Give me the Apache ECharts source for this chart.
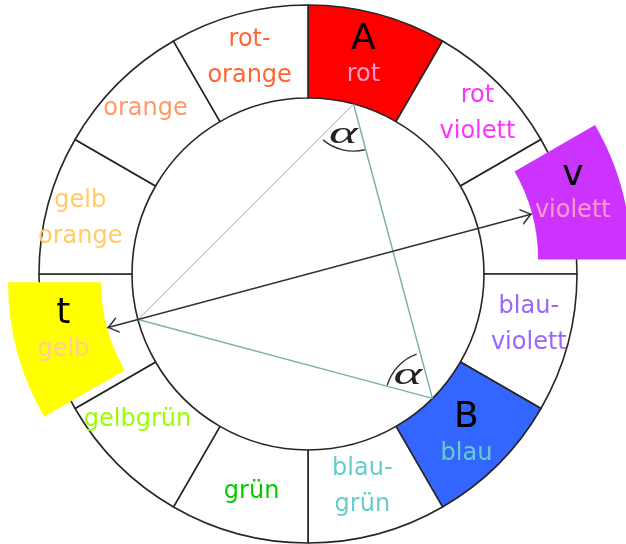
<!DOCTYPE html>
<html><head><meta charset="utf-8">
<script src="https://cdn.jsdelivr.net/npm/echarts@6/dist/echarts.min.js"></script>
<style>html,body{margin:0;padding:0;background:#fff}#c{width:626px;height:544px}</style>
</head><body><div id="c"></div>
<script>
// ---------- data ----------
const segmentNames = ['rot','rot violett','violett','blau-violett','blau','blau-grün','grün','gelbgrün','gelb','gelb orange','orange','rot-orange'];
const segmentLabels = ['rot','rot\nviolett','violett','blau-\nviolett','blau','blau-\ngrün','grün','gelbgrün','gelb','gelb\norange','orange','rot-\norange'];
const segmentValues = [1,1,1,1,1,1,1,1,1,1,1,1];
const markedLetters = {'rot':'A','blau':'B','violett':'v','gelb':'t'};
// polar points: [radius in % of outer ring, angle in degrees]
const trianglePoints = [
  {name:'A', value:[65.4, 75]},
  {name:'B', value:[65.4, 315]},
  {name:'t', value:[65.4, 195]}
];
const arrowPoints = [
  {name:'tEnd', value:[77.3, 195]},
  {name:'vEnd', value:[86.2, 15]}
];
const triangleEdges = [['A','t'],['A','B'],['B','t']];
const arrowEdge = ['tEnd','vEnd'];
const angleMarks = [['A','t','B'],['B','A','t']];
const angleSymbol = 'α';

// ---------- styles ----------
const FONT = 'DejaVu Sans';
const CENTER = [308, 274];
const R_IN = 176, R_OUT = 269;
const labelColors = ['#ff99cc','#ff33ff','#ff99cc','#9966ff','#66cccc','#66cccc','#00cc00','#99ff00','#ffcc99','#ffcc66','#ff9966','#ff6633'];
const fillColors = {'rot':'#ff0000','blau':'#3366ff','violett':'#cc33ff','gelb':'#ffff00'};
const explodeOffsets = {'violett':56,'gelb':32};
const labelOffsets = [[-3,0],[10,-1],[0,0],[3,-8],[-1,1],[-4,-5],[2,0],[-11,-14],[-3,-19],[-10,3],[-3,-6],[0,2]];
const edgeStyles = [
  {color:'#a8a8a8', width:1},
  {color:'#7fb0b0', width:1.5},
  {color:'#7fb0b0', width:1.5}
];
const chevron = 'path://M0 0L10 0L10 0.01Z M5 5L8.8 10L7.95 10L5 6.12L2.05 10L1.2 10Z';

function labelFor(i) {
  const n = segmentNames[i];
  const base = {show:true, position:'inside', offset:labelOffsets[i], fontFamily:FONT};
  if (markedLetters[n]) {
    return Object.assign(base, {
      formatter: '{big|' + markedLetters[n] + '}\n{small|' + segmentLabels[i] + '}',
      rich: {
        big:{fontFamily:FONT, fontSize:36, lineHeight:38, color:'#000'},
        small:{fontFamily:FONT, fontSize:24, lineHeight:34, color:labelColors[i]}
      }
    });
  }
  return Object.assign(base, {formatter: segmentLabels[i], color: labelColors[i], fontSize:24, lineHeight:36});
}

const series = [];
// base ring
series.push({
  type:'pie', center:CENTER, radius:[R_IN, R_OUT], startAngle:90, clockwise:true,
  silent:true, avoidLabelOverlap:false, z:1,
  labelLine:{show:false},
  itemStyle:{borderColor:'#262626', borderWidth:1.6},
  emphasis:{disabled:true},
  data: segmentNames.map((n,i)=>({
    name:n, value:segmentValues[i],
    itemStyle:{color: (fillColors[n] && !explodeOffsets[n]) ? fillColors[n] : '#ffffff'},
    label: explodeOffsets[n] ? {show:false} : labelFor(i)
  }))
});
// exploded highlight segments
Object.keys(explodeOffsets).forEach(key=>{
  series.push({
    type:'pie', center:CENTER, radius:[R_IN, R_OUT], startAngle:90, clockwise:true,
    silent:true, avoidLabelOverlap:false, z:2,
    selectedMode:'single', selectedOffset: explodeOffsets[key],
    labelLine:{show:false},
    itemStyle:{borderWidth:0},
    emphasis:{disabled:true},
    select:{itemStyle:{borderWidth:0}},
    data: segmentNames.map((n,i)=>({
      name:n, value:segmentValues[i], selected: n===key,
      itemStyle:{color: n===key ? fillColors[n] : 'rgba(0,0,0,0)', borderWidth:0},
      label: n===key ? labelFor(i) : {show:false},
      select:{
        itemStyle:{color: n===key ? fillColors[n] : 'rgba(0,0,0,0)', borderWidth:0},
        label: n===key ? labelFor(i) : {show:false}
      }
    }))
  });
});
// triangle and arrow
series.push({
  type:'graph', coordinateSystem:'polar', polarIndex:0, layout:'none', silent:true, z:3,
  symbolSize:0, label:{show:false}, emphasis:{disabled:true},
  data: trianglePoints.concat(arrowPoints).map(p=>({name:p.name, value:p.value})),
  links: triangleEdges.map((e,i)=>({source:e[0], target:e[1], lineStyle:{color:edgeStyles[i].color, width:edgeStyles[i].width, opacity:1}}))
    .concat([{source:arrowEdge[0], target:arrowEdge[1], symbol:[chevron, chevron], symbolSize:22,
              lineStyle:{color:'#333', width:1.5, opacity:1}}])
});
// angle marks
const pt = name => trianglePoints.find(p=>p.name===name).value;
series.push({
  type:'custom', coordinateSystem:'polar', polarIndex:0, silent:true, z:4, clip:false,
  data: angleMarks.map(m=>pt(m[0]).concat(pt(m[1])).concat(pt(m[2]))),
  renderItem: function(params, api){
    const v = api.coord([api.value(0), api.value(1)]);
    const p1 = api.coord([api.value(2), api.value(3)]);
    const p2 = api.coord([api.value(4), api.value(5)]);
    const a1 = Math.atan2(p1[1]-v[1], p1[0]-v[0]);
    const a2 = Math.atan2(p2[1]-v[1], p2[0]-v[0]);
    let d = a2 - a1;
    while (d > Math.PI) d -= 2*Math.PI;
    while (d < -Math.PI) d += 2*Math.PI;
    const mid = a1 + d/2;
    return {type:'group', children:[
      {type:'arc', shape:{cx:v[0], cy:v[1], r:47, startAngle:a1-0.08, endAngle:a1+d+0.02, clockwise:d>0},
       style:{stroke:'#333', lineWidth:1.4, fill:null}},
      {type:'text', x:v[0]+32*Math.cos(mid)-2, y:v[1]+32*Math.sin(mid), scaleX:1.7,
       style:{text:angleSymbol, font:'italic 32px "Liberation Serif"', fill:'#222', align:'center', verticalAlign:'middle'}}
    ]};
  }
});

const chart = echarts.init(document.getElementById('c'), null, {renderer:'canvas'});
chart.setOption({
  animation:false,
  backgroundColor:'#ffffff',
  polar:{center:CENTER, radius:R_OUT},
  angleAxis:{type:'value', min:0, max:360, startAngle:0, clockwise:false, show:false},
  radiusAxis:{type:'value', min:0, max:100, show:false},
  series: series
});
</script>
</body></html>
